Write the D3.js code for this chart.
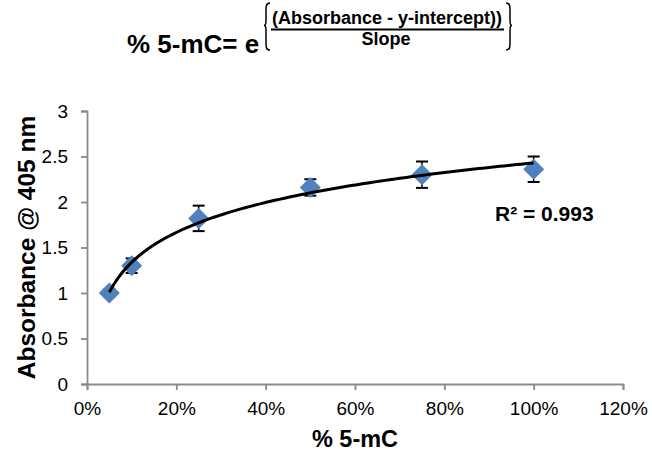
<!DOCTYPE html>
<html>
<head>
<meta charset="utf-8">
<script src="https://cdn.jsdelivr.net/npm/d3@7"></script>
<style>
body { margin: 0; background: #fff; }
</style>
</head>
<body>
<div id="chart"></div>
<script>
let font = "'Liberation Sans', Arial, sans-serif"

// werte
let percent = [0.05, 0.10, 0.25, 0.50, 0.75, 1.00]
let absorbance = [1.00, 1.30, 1.82, 2.16, 2.30, 2.36]
let errors = [0.04, 0.08, 0.14, 0.09, 0.145, 0.14]
let xTicks = [0, 0.2, 0.4, 0.6, 0.8, 1.0, 1.2]
let yTicks = [0, 0.5, 1, 1.5, 2, 2.5, 3]
let xTitle = "% 5-mC"
let yTitle = "Absorbance @ 405 nm"
let rSquaredLabel = "R² = 0.993"
let formulaLeft = "% 5-mC= e"
let formulaTop = "(Absorbance - y-intercept))"
let formulaBottom = "Slope"

let width = 652, height = 456

let svg = d3.select("#chart").append("svg")
    .attr("width", width)
    .attr("height", height)
    .style("font-family", font)

let x = d3.scaleLinear().domain([0, 1.2]).range([87, 623])
let y = d3.scaleLinear().domain([0, 3]).range([384, 111])

// achsen
let xAxis = svg.append("g")
    .attr("transform", "translate(0," + y(0) + ")")
    .call(d3.axisBottom(x).tickValues(xTicks).tickFormat(d3.format(".0%")).tickSize(6).tickPadding(12))
let yAxis = svg.append("g")
    .attr("transform", "translate(" + x(0) + ",0)")
    .call(d3.axisLeft(y).tickValues(yTicks).tickFormat(d3.format("~g")).tickSize(6).tickPadding(13))

;[xAxis, yAxis].forEach(a => {
    a.selectAll("path, line").attr("stroke", "#8a8a8a").attr("stroke-width", 1.8)
    a.selectAll("text").attr("font-size", "19px").attr("fill", "#000").attr("font-family", font)
})

// achsentitel
svg.append("text")
    .attr("x", (x(0) + x(1.2)) / 2)
    .attr("y", 447)
    .attr("text-anchor", "middle")
    .attr("font-size", "23.5px")
    .attr("font-weight", "bold")
    .text(xTitle)

svg.append("text")
    .attr("transform", "translate(35," + (y(0) + y(3)) / 2 + ") rotate(-90)")
    .attr("text-anchor", "middle")
    .attr("font-size", "24.5px")
    .attr("font-weight", "bold")
    .text(yTitle)

// fehlerbalken
let punkte = percent.map((p, i) => ({ p: p, a: absorbance[i], e: errors[i] }))

let err = svg.append("g").attr("stroke", "#000")
err.selectAll(".ev").data(punkte).enter().append("line")
    .attr("x1", d => x(d.p)).attr("x2", d => x(d.p))
    .attr("y1", d => y(d.a + d.e)).attr("y2", d => y(d.a - d.e))
    .attr("stroke-width", 1.5)
err.selectAll(".top").data(punkte).enter().append("line")
    .attr("x1", d => x(d.p) - 6).attr("x2", d => x(d.p) + 6)
    .attr("y1", d => y(d.a + d.e)).attr("y2", d => y(d.a + d.e))
    .attr("stroke-width", 2)
err.selectAll(".bot").data(punkte).enter().append("line")
    .attr("x1", d => x(d.p) - 6).attr("x2", d => x(d.p) + 6)
    .attr("y1", d => y(d.a - d.e)).attr("y2", d => y(d.a - d.e))
    .attr("stroke-width", 2)

// rauten
let r = 10.5
svg.selectAll(".raute").data(punkte).enter().append("path")
    .attr("class", "raute")
    .attr("d", d => {
        let cx = x(d.p), cy = y(d.a)
        return "M" + cx + "," + (cy - r) + "L" + (cx + r) + "," + cy + "L" + cx + "," + (cy + r) + "L" + (cx - r) + "," + cy + "Z"
    })
    .style("fill", "#4f81bd")

// logarithmische trendlinie (kleinste quadrate)
let lx = percent.map(Math.log)
let mx = d3.mean(lx), my = d3.mean(absorbance)
let sxy = d3.sum(lx, (v, i) => (v - mx) * (absorbance[i] - my))
let sxx = d3.sum(lx, v => (v - mx) * (v - mx))
let slope = sxy / sxx
let icpt = my - slope * mx

let kurve = d3.range(0, 101).map(i => {
    let p = percent[0] + (percent[percent.length - 1] - percent[0]) * i / 100
    return [p, slope * Math.log(p) + icpt]
})
svg.append("path")
    .datum(kurve)
    .attr("d", d3.line().x(d => x(d[0])).y(d => y(d[1])))
    .attr("fill", "none")
    .attr("stroke", "#000")
    .attr("stroke-width", 3)

svg.append("text")
    .attr("x", 495)
    .attr("y", 221)
    .attr("font-size", "21px")
    .attr("font-weight", "bold")
    .text(rSquaredLabel)

// formel oben
let formel = svg.append("g").attr("font-weight", "bold")
formel.append("text").attr("x", 127).attr("y", 53).attr("font-size", "26px").text(formulaLeft)
formel.append("text").attr("x", 387).attr("y", 24).attr("font-size", "18px").attr("text-anchor", "middle").text(formulaTop)
formel.append("text").attr("x", 386).attr("y", 45).attr("font-size", "18px").attr("text-anchor", "middle").text(formulaBottom)
formel.append("line").attr("x1", 271).attr("x2", 504).attr("y1", 29.5).attr("y2", 29.5)
    .attr("stroke", "#000").attr("stroke-width", 2)

function klammer(xr, y0, y1, dir) {
    // dir = 1 -> "{" , dir = -1 -> "}"
    let ym = (y0 + y1) / 2 - 1
    let xa = xr - dir * 4, xc = xr - dir * 6
    return "M" + xr + "," + y0 +
        "C" + xa + "," + y0 + " " + xa + "," + (y0 + 3) + " " + xa + "," + (y0 + 8) +
        "L" + xa + "," + (ym - 5) +
        "C" + xa + "," + (ym - 2) + " " + (xa - dir) + "," + ym + " " + xc + "," + ym +
        "C" + (xa - dir) + "," + ym + " " + xa + "," + (ym + 2) + " " + xa + "," + (ym + 5) +
        "L" + xa + "," + (y1 - 8) +
        "C" + xa + "," + (y1 - 3) + " " + xa + "," + y1 + " " + xr + "," + y1
}
formel.append("path").attr("d", klammer(270, 3, 50, 1)).attr("fill", "none").attr("stroke", "#000").attr("stroke-width", 1.5)
formel.append("path").attr("d", klammer(506, 3, 50, -1)).attr("fill", "none").attr("stroke", "#000").attr("stroke-width", 1.5)
</script>
</body>
</html>
